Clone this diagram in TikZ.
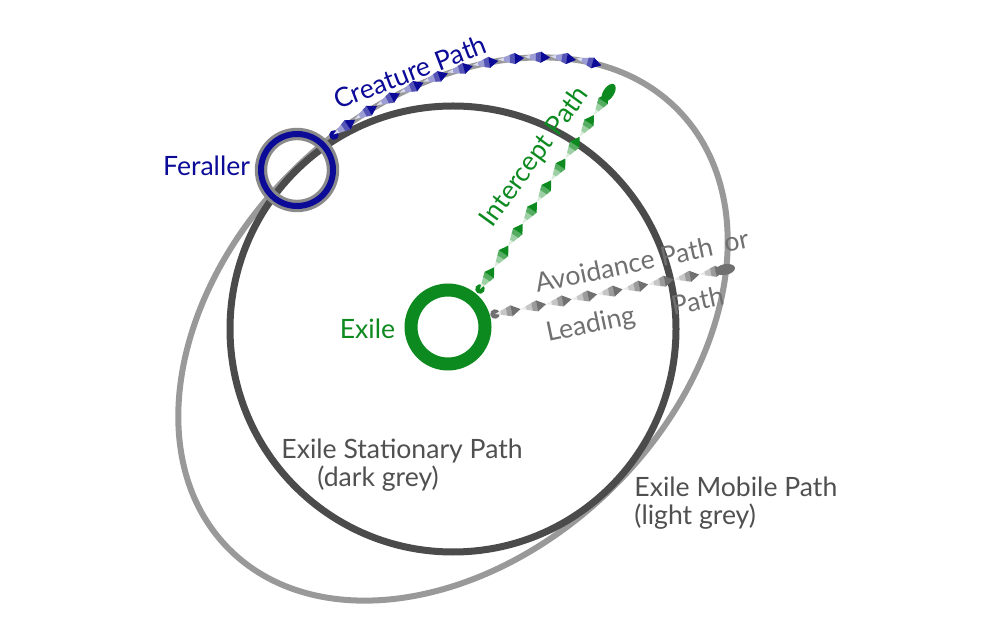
\documentclass[tikz,border=0pt]{standalone}
\usepackage{fontspec}
\setmainfont{Lato}
\usetikzlibrary{positioning,calc,decorations.markings}

\definecolor{exgreen}{HTML}{0C8A1F}
\definecolor{ferblue}{HTML}{0B0B98}
\definecolor{darkpath}{HTML}{4B4B4B}
\definecolor{lightpath}{HTML}{999999}
\definecolor{ringgrey}{HTML}{8A8A8A}
\definecolor{labelgrey}{HTML}{505050}
\definecolor{avoidgrey}{HTML}{707070}

% one twist of a ribbon, ending at the mark
\newcommand{\twistpiece}[1]{%
  \fill[#1!15] (-13pt,0pt) -- (-10pt,1pt) -- (-10pt,-1pt) -- cycle;
  \fill[#1!40] (-10.1pt,1pt) -- (-7pt,2pt) -- (-7pt,-2pt) -- (-10.1pt,-1pt) -- cycle;
  \fill[#1!70] (-7.1pt,2pt) -- (-4.5pt,2.8pt) -- (-4.5pt,-2.8pt) -- (-7.1pt,-2pt) -- cycle;
  \fill[#1] (-4.6pt,2.8pt) -- (0pt,0pt) -- (-4.6pt,-2.8pt) -- cycle;}

\begin{document}
\begin{tikzpicture}[x=0.5pt,y=-0.5pt,
    lbl/.style={font=\fontsize{13.3}{14}\selectfont, inner sep=0pt},
    ribbon/.style={postaction={decorate}, decoration={markings,
        mark=at position 0 with {\fill[#1] circle (2.4pt);},
        mark=between positions 13pt and 1 step 13pt with {\twistpiece{#1}},
        mark=at position 1 with {\fill[#1] (-4pt,0) ellipse [x radius=5pt, y radius=2.7pt];}}}
]
\useasboundingbox (0,0) rectangle (1000,635);

% Paths of the exile
\coordinate (centre) at (453,329);
\draw[lightpath, line width=3pt] (centre) ellipse [x radius=314, y radius=225, rotate=44];
\draw[darkpath, line width=3.5pt] (centre) circle (223);

% Exile and feraller
\node[circle, draw=exgreen, line width=6.5pt, minimum size=37pt, inner sep=0pt] (exile) at (448,327) {};
\node[circle, draw=ringgrey, line width=1.6pt, double=ferblue, double distance=3pt, minimum size=36pt, inner sep=0pt] (feraller) at (297,170) {};

\node[lbl, text=exgreen, left=4.5pt of exile, yshift=-1pt] (exilelbl) {Exile};
\node[lbl, text=ferblue, left=4.5pt of feraller, yshift=2pt] (ferallerlbl) {Feraller};

% Creature path along the mobile path
\begin{scope}[shift={(centre)}, rotate=44]
\coordinate (cstart) at ({314*cos(-81)},{225*sin(-81)});
\path[ribbon=ferblue] (cstart) arc [start angle=-81, end angle=-20, x radius=314, y radius=225];
\end{scope}

% Intercept and avoidance paths
\coordinate (istart) at (480,289);
\coordinate (iend) at (613,86);
\coordinate (astart) at (495,314);
\coordinate (aend) at (733,268);
\path[ribbon=exgreen] (istart) -- (iend);
\path[ribbon=avoidgrey] (astart) -- (aend);

% Labels
\node[lbl, text=ferblue, rotate=21] (creaturelbl) at (410,72) {Creature Path};
\node[lbl, text=exgreen, rotate=54] (interceptlbl) at (535,157) {Intercept Path};
\node[lbl, text=avoidgrey, rotate=12, anchor=base west] (avoidlbl) at (537,293) {Avoidance Path\hspace{6pt}or};
\node[lbl, text=avoidgrey, rotate=12, anchor=base west] (leadlbl) at (548,342) {Leading\hspace{19pt}Path};
\node[lbl, text=labelgrey, align=left, anchor=west] (statlbl) at (281,465) {Exile Stationary Path\\\hspace*{18pt}(dark grey)};
\node[lbl, text=labelgrey, align=left, anchor=west] (mobilelbl) at (634,503) {Exile Mobile Path\\(light grey)};

\end{tikzpicture}
\end{document}
